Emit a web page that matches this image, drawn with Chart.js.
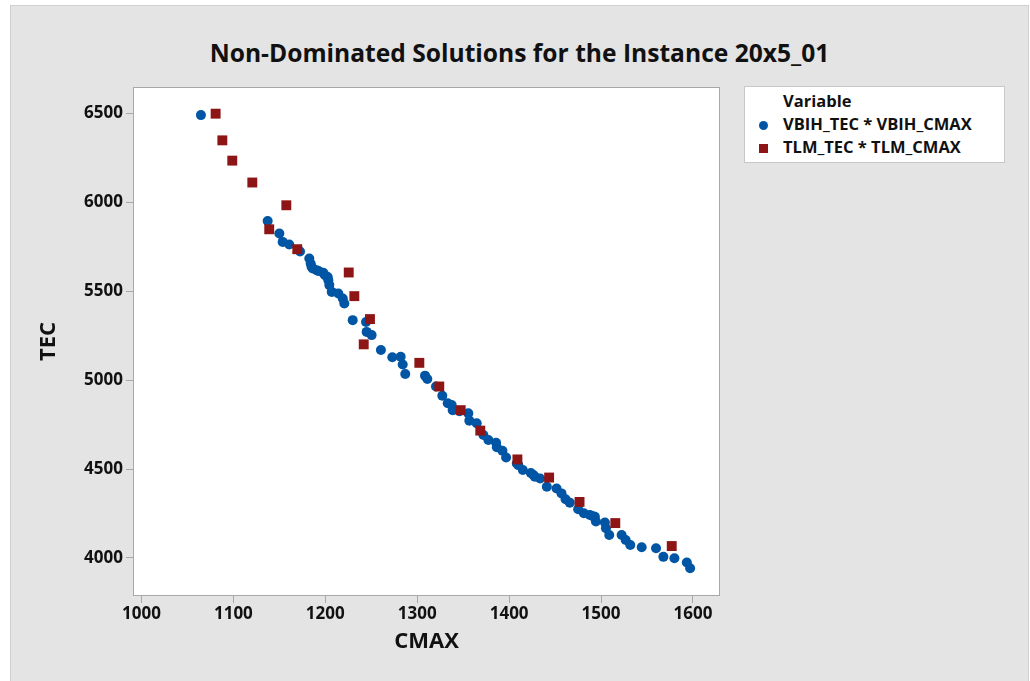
<!DOCTYPE html>
<html>
<head>
<meta charset="utf-8">
<title>Non-Dominated Solutions for the Instance 20x5_01</title>
<script src="https://cdn.jsdelivr.net/npm/chart.js@4"></script>
<style>
  html, body { margin: 0; padding: 0; background: #fff; width: 1030px; height: 681px; overflow: hidden; font-family: 'Open Sans', sans-serif; }
  #frame { position: absolute; left: 10px; top: 5px; width: 1017px; height: 680px; background: #e4e4e4; border: 1px solid #d0d0d0; }
  #title { position: absolute; left: 10px; width: 1019px; top: 36px; text-align: center; font-weight: 700; font-size: 24.6px; line-height: 34px; color: #111; }
  #chart { position: absolute; left: 0; top: 0; }
  #legend { position: absolute; left: 744px; top: 86px; width: 259px; height: 73px; background: #fff; border: 1px solid #c8c8c8;
            font-weight: 700; font-size: 16.5px; line-height: 23px; color: #111; padding-top: 2px; box-sizing: content-box; }
  #legend div { position: relative; padding-left: 38px; white-space: nowrap; }
  #legend span { position: absolute; left: 14px; top: 9px; width: 9px; height: 9px; }
</style>
</head>
<body>
<div id="frame"></div>
<div id="title">Non-Dominated Solutions for the Instance 20x5_01</div>
<canvas id="chart" width="1030" height="681"></canvas>
<div id="legend"></div>
<script>
// VBIH front
const vbihCmax = [1064.7, 1137.3, 1150, 1153.6, 1160.8, 1172.5, 1182.6, 1184.1, 1185, 1186.3, 1190.6, 1192.4, 1197.8, 1199.7,
  1202.6, 1203.3, 1204.4, 1207, 1214.2, 1219, 1220.7, 1229.8, 1244.3, 1245, 1250.4, 1260.5, 1272.9, 1282, 1284.2, 1287,
  1308.5, 1311, 1320.4, 1327.3, 1333.2, 1337.5, 1338.6, 1346, 1355.6, 1356.7, 1364.7, 1372, 1377.4, 1385.8, 1386.6, 1392.7,
  1396.7, 1408.3, 1410, 1414.9, 1423.6, 1426.4, 1428, 1433.7, 1441, 1451.6, 1457, 1461.4, 1466, 1475.1, 1481.3, 1487.8,
  1491, 1493.3, 1494.4, 1504.2, 1505.3, 1508.9, 1522.4, 1526.8, 1531.8, 1544.2, 1559.8, 1567.8, 1579.8, 1593.3, 1596.9];
const vbihTec = [6490, 5895, 5824, 5777, 5762, 5723, 5684, 5656, 5637, 5628, 5618, 5614, 5603, 5590,
  5580, 5562, 5534, 5496, 5487, 5459, 5431, 5337, 5327, 5271, 5253, 5169, 5128, 5131, 5088, 5034,
  5025, 5006, 4964, 4912, 4870, 4860, 4831, 4825, 4813, 4772, 4757, 4691, 4663, 4648, 4622, 4603,
  4565, 4531, 4522, 4494, 4478, 4466, 4457, 4447, 4400, 4390, 4363, 4330, 4311, 4274, 4251, 4242,
  4235, 4232, 4205, 4199, 4167, 4129, 4129, 4101, 4073, 4060, 4054, 4006, 3998, 3974, 3942];

// TLM front
const tlmCmax = [1080.7, 1088, 1098.8, 1120.6, 1157.6, 1139, 1169.5, 1225.5, 1231.6, 1248.6, 1241.8, 1302.3, 1324, 1347.3,
  1368.6, 1409, 1443.5, 1476.6, 1515.5, 1576.9];
const tlmTec = [6498, 6348, 6234, 6111, 5983, 5848, 5736, 5605, 5472, 5343, 5201, 5097, 4964, 4831,
  4716, 4554, 4452, 4315, 4196, 4067];

const seriesNames = ['VBIH_TEC * VBIH_CMAX', 'TLM_TEC * TLM_CMAX'];
const xTicks = [1000, 1100, 1200, 1300, 1400, 1500, 1600];
const yTicks = [4000, 4500, 5000, 5500, 6000, 6500];

const blue = '#0055a5';
const red = '#8e1515';
const axisGrey = '#a8a8a8';

function toPoints(xs, ys) {
    return xs.map((x, i) => ({ x: x, y: ys[i] }));
}

// legend box (html)
const legend = document.getElementById('legend');
legend.innerHTML = '<div>Variable</div>' +
    '<div><span style="background:' + blue + ';border-radius:50%"></span>' + seriesNames[0] + '</div>' +
    '<div><span style="background:' + red + '"></span>' + seriesNames[1] + '</div>';

const tickFont = { family: "'Open Sans', sans-serif", size: 17, weight: '700' };
const titleFont = { family: "'Open Sans', sans-serif", size: 22, weight: '700' };

const plotBox = {
    id: 'plotBox',
    beforeDatasetsDraw(chart) {
        const a = chart.chartArea, ctx = chart.ctx;
        ctx.save();
        ctx.fillStyle = '#fff';
        ctx.fillRect(a.left, a.top, a.right - a.left, a.bottom - a.top);
        ctx.strokeStyle = axisGrey;
        ctx.lineWidth = 1;
        ctx.strokeRect(a.left + 0.5, a.top + 0.5, a.right - a.left - 1, a.bottom - a.top - 1);
        ctx.restore();
    }
};

new Chart(document.getElementById('chart'), {
    type: 'scatter',
    data: {
        datasets: [
            { label: seriesNames[0], data: toPoints(vbihCmax, vbihTec), pointStyle: 'circle', pointRadius: 5,
              pointHoverRadius: 5, backgroundColor: blue, borderWidth: 0, order: 1 },
            { label: seriesNames[1], data: toPoints(tlmCmax, tlmTec), pointStyle: 'rect', pointRadius: 7,
              pointHoverRadius: 7, backgroundColor: red, borderWidth: 0, order: 0 }
        ]
    },
    options: {
        responsive: false,
        animation: false,
        devicePixelRatio: 1,
        layout: { padding: { top: 87, right: 310, bottom: 0, left: 0 } },
        plugins: { legend: { display: false }, tooltip: { enabled: false } },
        scales: {
            x: {
                type: 'linear', min: 990.8, max: 1629.4,
                afterBuildTicks: s => { s.ticks = xTicks.map(v => ({ value: v })); },
                afterFit: s => { s.height = 85; },
                grid: { drawOnChartArea: false, tickLength: 7, color: axisGrey },
                border: { display: false },
                ticks: { padding: 1, color: '#111', font: tickFont, maxRotation: 0, callback: v => String(v) },
                title: { display: true, text: 'CMAX', color: '#111', font: titleFont, padding: { top: 0, bottom: 26 } }
            },
            y: {
                type: 'linear', min: 3786, max: 6648,
                afterBuildTicks: s => { s.ticks = yTicks.map(v => ({ value: v })); },
                afterFit: s => { s.width = 133; },
                grid: { drawOnChartArea: false, tickLength: 7, color: axisGrey },
                border: { display: false },
                ticks: { padding: 3, color: '#111', font: tickFont, callback: v => String(v) },
                title: { display: true, text: 'TEC', color: '#111', font: titleFont, padding: { top: 36, bottom: 0 } }
            }
        }
    },
    plugins: [plotBox]
});
</script>
</body>
</html>
